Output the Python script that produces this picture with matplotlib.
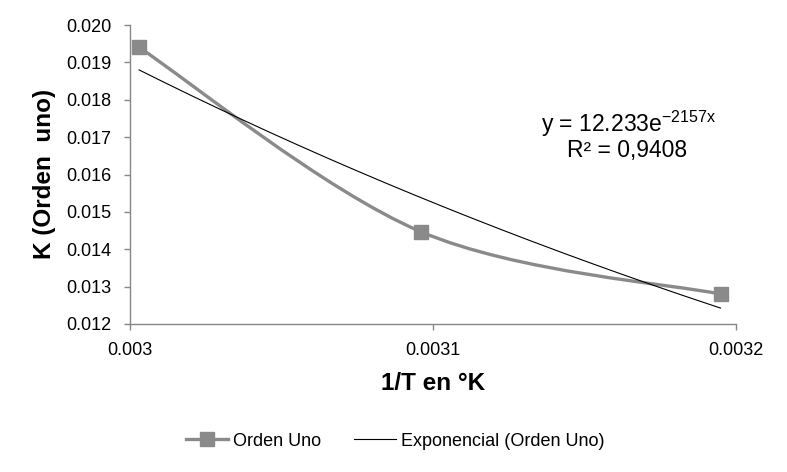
import numpy as np
import matplotlib
matplotlib.use("Agg")
import matplotlib.pyplot as plt
from matplotlib.path import Path
from matplotlib.patches import PathPatch
from matplotlib.lines import Line2D

# ---- data ----
x_vals = [1/333, 1/323, 1/313]          # 1/T
k_vals = [0.0194, 0.01447, 0.0128]       # K (Orden uno)
x_ticks = [0.003, 0.0031, 0.0032]
x_tick_labels = ["0.003", "0.0031", "0.0032"]
y_ticks = [0.012, 0.013, 0.014, 0.015, 0.016, 0.017, 0.018, 0.019, 0.020]
y_tick_labels = ["0.012", "0.013", "0.014", "0.015", "0.016", "0.017", "0.018", "0.019", "0.020"]
series_name = "Orden Uno"
trend_name = "Exponencial (Orden Uno)"
eq_text = r"y = 12.233e$^{\mathregular{-2157x}}$"
r2_text = "R² = 0,9408"

plt.rcParams['font.family'] = ['Liberation Sans', 'DejaVu Sans']
plt.rcParams['mathtext.fontset'] = 'custom'
plt.rcParams['mathtext.rm'] = 'Liberation Sans'

W, H = 787, 472
fig = plt.figure(figsize=(W/100, H/100), dpi=100)
ax = fig.add_axes([130/W, 1-324/H, (736-130)/W, (324-25)/H])

gray_line = '#8a8a8a'
axis_col = '#878787'

# smoothed line (Excel-style Bezier through the points)
P = np.column_stack([x_vals, k_vals])
n = len(P)
verts = [tuple(P[0])]
codes = [Path.MOVETO]
for i in range(n-1):
    p_prev = P[i-1] if i > 0 else P[i]
    p_next2 = P[i+2] if i+2 < n else P[i+1]
    c1 = P[i] + (P[i+1] - p_prev)/6
    c2 = P[i+1] - (p_next2 - P[i])/6
    verts += [tuple(c1), tuple(c2), tuple(P[i+1])]
    codes += [Path.CURVE4]*3
ax.add_patch(PathPatch(Path(verts, codes), fill=False, edgecolor=gray_line,
                       lw=2.4, capstyle='round', joinstyle='round', zorder=2))
ax.plot(x_vals, k_vals, linestyle='none', marker='s', markersize=9.5,
        color=gray_line, zorder=3)

# exponential trendline fitted on the data
b, ln_a = np.polyfit(x_vals, np.log(k_vals), 1)
xt = np.linspace(min(x_vals), max(x_vals), 200)
ax.plot(xt, np.exp(ln_a)*np.exp(b*xt), color='black', lw=0.8, zorder=4)

ax.set_xlim(0.003, 0.0032)
ax.set_ylim(0.012, 0.020)
ax.set_xticks(x_ticks)
ax.set_xticklabels(x_tick_labels)
ax.set_yticks(y_ticks)
ax.set_yticklabels(y_tick_labels)
for s in ['top', 'right']:
    ax.spines[s].set_visible(False)
for s in ['left', 'bottom']:
    ax.spines[s].set_color(axis_col)
    ax.spines[s].set_linewidth(1.0)
ax.tick_params(axis='both', colors=axis_col, length=4.5, width=1.0,
               labelcolor='black', labelsize=13)
ax.tick_params(axis='x', pad=8.5)
ax.tick_params(axis='y', pad=9)

fig.text(45/W, 1-174/H, "K (Orden  uno)", rotation=90, ha='center', va='center',
         fontsize=17.5, fontweight='bold')
fig.text(433/W, 1-383/H, "1/T en °K", ha='center', va='center',
         fontsize=17.5, fontweight='bold')

fig.text(628/W, 1-124/H, eq_text, ha='center', va='center', fontsize=16.5)
fig.text(627/W, 1-151/H, r2_text, ha='center', va='center', fontsize=16.5)

handles = [Line2D([], [], color=gray_line, lw=2.4, marker='s', markersize=9.5),
           Line2D([], [], color='black', lw=0.8)]
fig.legend(handles, [series_name, trend_name], loc='center',
           bbox_to_anchor=(395.5/W, 1-441/H), ncol=2, frameon=False,
           fontsize=13, handlelength=2.3, handletextpad=0.3, columnspacing=1.8)

fig.savefig('out.png', dpi=100)
